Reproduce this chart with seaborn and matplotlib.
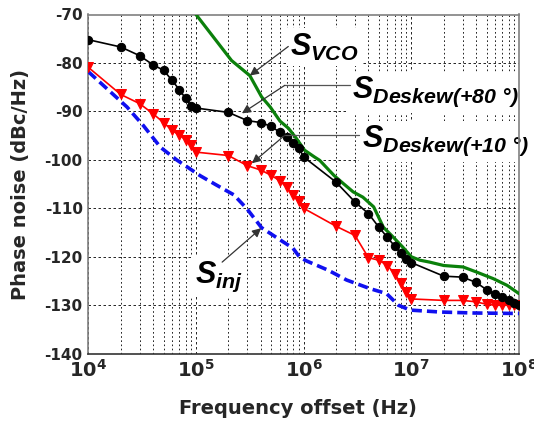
import numpy as np
import pandas as pd
import matplotlib
matplotlib.use("Agg")
import matplotlib.pyplot as plt
import seaborn as sns
from matplotlib.ticker import LogLocator, NullFormatter

# ---------------- data ----------------
f_deskew = [1e4, 2e4, 3e4, 4e4, 5e4, 6e4, 7e4, 8e4, 9e4,
            1e5, 2e5, 3e5, 4e5, 5e5, 6e5, 7e5, 8e5, 9e5,
            1e6, 2e6, 3e6, 4e6, 5e6, 6e6, 7e6, 8e6, 9e6,
            1e7, 2e7, 3e7, 4e7, 5e7, 6e7, 7e7, 8e7, 9e7, 1e8]
deskew80 = [-75.2, -76.7, -78.5, -80.4, -81.5, -83.6, -85.5, -87.3, -88.8,
            -89.3, -90.2, -91.9, -92.3, -93.1, -94.3, -95.3, -96.5, -97.5,
            -99.4, -104.6, -108.7, -111.1, -113.9, -116.0, -117.8, -119.3, -120.4,
            -121.2, -124.0, -124.2, -125.3, -126.8, -127.7, -128.3, -129.0, -129.5, -130.0]
deskew10 = [-80.9, -86.5, -88.4, -90.5, -92.3, -93.9, -94.9, -95.8, -97.0,
            -98.4, -99.1, -101.2, -102.1, -103.2, -104.3, -105.7, -107.3, -108.5,
            -110.0, -113.7, -115.6, -120.2, -120.7, -121.8, -123.5, -125.5, -127.2,
            -128.7, -129.0, -129.0, -129.3, -129.8, -130.0, -130.0, -130.0, -130.0, -130.0]

f_vco = [1.0e5, 2.14e5, 3.16e5, 4.07e5, 4.90e5, 6.03e5, 7.24e5, 8.51e5, 1.02e6,
         1.26e6, 1.41e6, 1.91e6, 2.34e6, 2.88e6, 3.55e6, 4.47e6, 5.50e6, 6.76e6,
         8.32e6, 1.0e7, 1.20e7, 1.48e7, 2.0e7, 3.02e7, 3.98e7, 5.75e7, 7.76e7, 1.0e8]
vco = [-70.0, -79.5, -82.6, -87.0, -89.1, -92.0, -93.5, -95.5, -98.0,
       -99.4, -100.1, -103.2, -104.9, -106.6, -107.7, -109.7, -113.9, -115.9,
       -118.0, -120.0, -120.7, -121.1, -121.8, -122.1, -123.1, -124.5, -125.9, -127.6]

f_inj = [1.0e4, 2.29e4, 3.24e4, 4.68e4, 6.61e4, 1.10e5, 1.55e5, 2.24e5, 2.95e5,
         4.07e5, 6.03e5, 7.94e5, 9.12e5, 1.05e6, 1.70e6, 2.51e6, 4.17e6, 5.89e6,
         7.59e6, 9.77e6, 1.86e7, 3.80e7, 1.0e8]
inj = [-81.8, -89.1, -92.9, -97.4, -100.0, -103.3, -105.2, -107.2, -110.0,
       -114.0, -116.5, -118.2, -120.0, -120.8, -122.8, -124.8, -126.6, -127.6,
       -130.0, -131.0, -131.4, -131.6, -131.7]

y_ticks = [-140, -130, -120, -110, -100, -90, -80, -70]
x_ticks = [1e4, 1e5, 1e6, 1e7, 1e8]
x_tick_labels = [r"$\mathbf{10^{4}}$", r"$\mathbf{10^{5}}$", r"$\mathbf{10^{6}}$",
                 r"$\mathbf{10^{7}}$", r"$\mathbf{10^{8}}$"]

lab_vco = r"$S_{VCO}$"
lab_80 = r"$S_{Deskew(+80\ °)}$"
lab_10 = r"$S_{Deskew(+10\ °)}$"
lab_inj = r"$S_{inj}$"

# ---------------- style ----------------
sns.set_theme(style="white")
plt.rcParams.update({
    "font.family": ["DejaVu Sans"],
    "font.weight": "bold",
    "mathtext.fontset": "custom",
    "mathtext.default": "regular",
    "mathtext.it": "Liberation Sans:italic:bold",
    "mathtext.rm": "Liberation Sans:italic:bold",
    "mathtext.bf": "DejaVu Sans:bold",
})

fig = plt.figure(figsize=(5.34, 4.32), dpi=100)
W, H = 534, 432
L, R, T, B = 88.3, 519.0, 14.5, 353.7
ax = fig.add_axes([L / W, 1 - B / H, (R - L) / W, (B - T) / H])

df_inj = pd.DataFrame({"f": f_inj, "v": inj})
df_vco = pd.DataFrame({"f": f_vco, "v": vco})
df_d = pd.DataFrame({"f": f_deskew, "d80": deskew80, "d10": deskew10})

sns.lineplot(data=df_inj, x="f", y="v", ax=ax, color="#1010f0", lw=2.6,
             linestyle=(0, (2.8, 1.4)), estimator=None, sort=False, zorder=3)
sns.lineplot(data=df_d, x="f", y="d10", ax=ax, color="#ff0000", lw=1.2,
             marker="v", markersize=7.5, markeredgecolor="#ff0000",
             estimator=None, sort=False, zorder=4)
sns.lineplot(data=df_vco, x="f", y="v", ax=ax, color="#0b800b", lw=2.3,
             estimator=None, sort=False, zorder=5)
sns.lineplot(data=df_d, x="f", y="d80", ax=ax, color="black", lw=1.2,
             marker="o", markersize=6, markeredgecolor="black",
             estimator=None, sort=False, zorder=6)

ax.set_xscale("log")
ax.set_xlim(1e4, 1e8)
ax.set_ylim(-140, -70)
ax.set_xticks(x_ticks)
ax.set_xticklabels(x_tick_labels, fontsize=14)
ax.xaxis.set_minor_locator(LogLocator(base=10, subs=np.arange(2, 10)))
ax.xaxis.set_minor_formatter(NullFormatter())
ax.set_yticks(y_ticks)
ax.set_yticklabels([str(t) for t in y_ticks], fontsize=11, fontweight="bold")

ax.set_axisbelow(True)
ax.grid(which="major", axis="both", color="black", lw=0.6, ls=(0, (3, 3)))
ax.grid(which="minor", axis="x", color="black", lw=0.6, ls=(0, (2, 3)))

ax.tick_params(axis="both", which="both", direction="in", length=0, pad=4)
for side in ["left", "top", "right"]:
    ax.spines[side].set_color("#808080")
    ax.spines[side].set_linewidth(1.2)
ax.spines["bottom"].set_color("#333333")
ax.spines["bottom"].set_linewidth(1.2)

ax.set_xlabel("Frequency offset (Hz)", fontsize=14, fontweight="bold")
ax.set_ylabel("Phase noise (dBc/Hz)", fontsize=14, fontweight="bold")
ax.xaxis.set_label_coords(0.486, -0.133)
ax.yaxis.set_label_coords(-0.135, 0.5)

# ---------------- annotations ----------------
box = dict(boxstyle="square,pad=0.12", fc="white", ec="none")
tkw = dict(fontsize=22, ha="left", va="baseline", color="black", zorder=2.5, bbox=box,
           fontfamily="Liberation Sans", fontstyle="italic", fontweight="bold")
ax.text(7.4e5, -78.5, lab_vco, **tkw)
ax.text(2.8e6, -87.3, lab_80, **tkw)
ax.text(3.5e6, -97.4, lab_10, **tkw)
ax.text(9.7e4, -125.3, lab_inj, **tkw)

akw = dict(arrowstyle="-|>", color="#333333", lw=0.9, mutation_scale=13,
           shrinkA=0, shrinkB=0)
ax.annotate("", xy=(3.16e5, -82.6), xytext=(7.2e5, -76.6), arrowprops=akw, zorder=7)
ax.plot([2.69e6, 6.7e5], [-84.6, -84.6], color="#555555", lw=0.9, zorder=7)
ax.annotate("", xy=(2.67e5, -90.4), xytext=(6.7e5, -84.6), arrowprops=akw, zorder=7)
ax.plot([3.3e6, 6.7e5], [-94.9, -94.9], color="#555555", lw=0.9, zorder=7)
ax.annotate("", xy=(3.31e5, -100.7), xytext=(6.7e5, -94.9), arrowprops=akw, zorder=7)
ax.annotate("", xy=(4.03e5, -114.1), xytext=(1.75e5, -121.1), arrowprops=akw, zorder=7)

fig.savefig("out.png", dpi=100)
